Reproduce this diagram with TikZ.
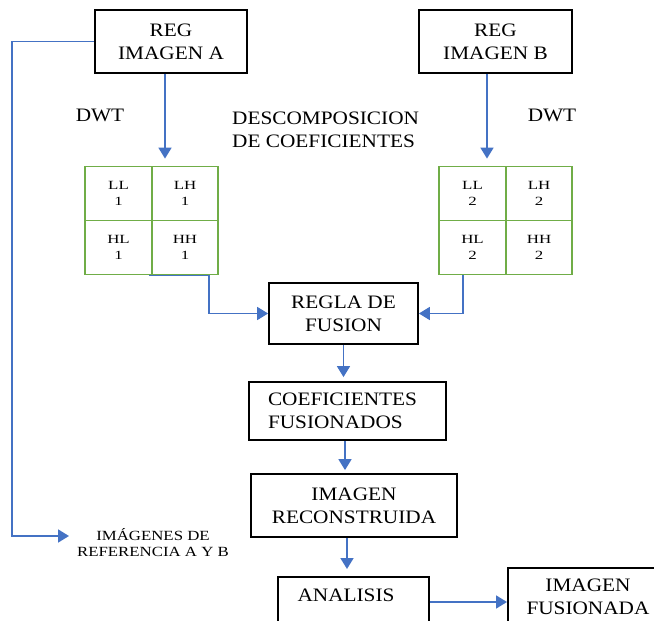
\documentclass[tikz,border=0pt]{standalone}
\usepackage{fontspec}
\setmainfont{Liberation Serif}[FakeStretch=1.12]
\newfontfamily\cellfont{Liberation Serif}[FakeStretch=1.35]
\newfontfamily\reffont{Liberation Serif}[FakeStretch=1.2]
\usetikzlibrary{arrows.meta}
\definecolor{arrblue}{HTML}{4472C4}
\definecolor{gridgreen}{HTML}{70AD47}
\tikzset{
  box/.style={draw=black, line width=1.8pt, inner sep=0pt, font=\fontsize{19}{23}\selectfont, align=center},
  cell/.style={draw=gridgreen, line width=1.8pt, minimum width=66.5pt, minimum height=54pt, inner sep=0pt, font=\cellfont\fontsize{12.5}{16}\selectfont, align=center},
  lbl/.style={font=\fontsize{19}{23}\selectfont, align=left, inner sep=0pt},
  arr/.style={draw=arrblue, line width=1.8pt, -{Triangle[length=11pt,width=13pt]}},
}
\begin{document}
\begin{tikzpicture}[x=1pt,y=-1pt]
\useasboundingbox (0,0) rectangle (654,621);
% top boxes
\node[box, minimum width=152pt, minimum height=63pt] (rega) at (171,41.5) {REG\\IMAGEN A};
\node[box, minimum width=153pt, minimum height=63pt] (regb) at (495.5,41.5) {REG\\IMAGEN B};
% labels
\node[lbl] (dwta) at (100,115) {DWT};
\node[lbl] (dwtb) at (552,115) {DWT};
\node[lbl, anchor=west] (desc) at (232,130) {DESCOMPOSICION\\DE COEFICIENTES};
% grid 1
\node[cell] (ll1) at (118.5,193.5) {LL\\1};
\node[cell] (lh1) at (185,193.5) {LH\\1};
\node[cell] (hl1) at (118.5,247.5) {HL\\1};
\node[cell] (hh1) at (185,247.5) {HH\\1};
% grid 2
\node[cell] (ll2) at (472.5,193.5) {LL\\2};
\node[cell] (lh2) at (539,193.5) {LH\\2};
\node[cell] (hl2) at (472.5,247.5) {HL\\2};
\node[cell] (hh2) at (539,247.5) {HH\\2};
% process boxes
\node[box, minimum width=149pt, minimum height=61pt] (regla) at (343.5,313.5) {REGLA DE\\FUSION};
\node[box, minimum width=197pt, minimum height=58pt, align=left, text width=159pt] (coef) at (347.5,411) {COEFICIENTES\\FUSIONADOS};
\node[box, minimum width=206pt, minimum height=63pt] (recon) at (354,505.5) {IMAGEN\\RECONSTRUIDA};
\node[box, minimum width=151pt, minimum height=64pt, anchor=north west] (analisis) at (277,576) {};
\node[lbl, anchor=center] (analisistxt) at (346,595) {ANALISIS};
\node[box, minimum width=170pt, minimum height=68pt, anchor=north west] (fusionada) at (507,567) {};
\node[lbl, align=center, anchor=center] (fusionadatxt) at (588,597) {IMAGEN\\FUSIONADA};
% reference text
\node[font=\reffont\fontsize{14}{16}\selectfont, align=center, inner sep=0pt] (reftxt) at (153,543) {IMÁGENES DE\\REFERENCIA A Y B};
\coordinate (reftip) at (69,536);
% arrows
\draw[arr, shorten >=7pt] ([xshift=-6pt]rega.south) -- ([xshift=-6pt]rega.south |- lh1.north);
\draw[arr, shorten >=7pt] ([xshift=-8.5pt]regb.south) -- ([xshift=-8.5pt]regb.south |- lh2.north);
\draw[arr] ([xshift=-2pt]hh1.south west) -- ++(60,0) |- (regla.west);
\draw[arr] ([xshift=-9.5pt]hl2.south) |- (regla.east);
\draw[arr, shorten >=4pt] (regla.south) -- (regla.south |- coef.north);
\draw[arr, shorten >=3pt] ([xshift=-2.5pt]coef.south) -- ([xshift=-2.5pt]coef.south |- recon.north);
\draw[arr, shorten >=7pt] ([xshift=-7pt]recon.south) -- ([xshift=-7pt]recon.south |- analisis.north);
\draw[arr] (analisis.east |- 0,602) -- (fusionada.west |- 0,602);
\draw[arr] (rega.west) -- ++(-82,0) |- (reftip);
\end{tikzpicture}
\end{document}
